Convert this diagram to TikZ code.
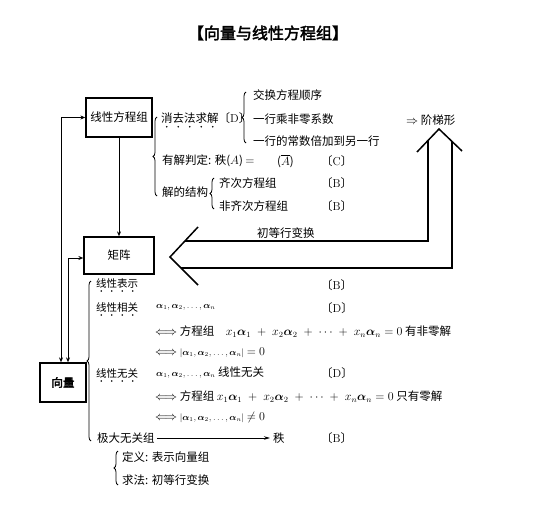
\documentclass[tikz,border=0pt]{standalone}
\usepackage{amsmath,amssymb}
\usepackage{fontspec}
\newfontfamily\cjk[AutoFakeBold=2.5]{Noto Sans CJK SC}
\usetikzlibrary{decorations.pathreplacing,arrows.meta}
\newcommand\grade[1]{〔{\rmfamily #1}〕}
\newcommand\bal[1]{\boldsymbol{\alpha}_{#1}}
\newcommand\emdots[3]{\foreach \i in {1,...,#2}{\fill ([xshift={(\i-0.5)*#3},yshift=-3pt]#1.south west) circle (0.9pt);}}
\begin{document}
\begin{tikzpicture}[x=1pt,y=-1pt,
  every node/.style={inner sep=0pt},
  txt/.style={anchor=west,font=\cjk\fontsize{11.5}{13}\selectfont},
  stxt/.style={anchor=west,font=\cjk\fontsize{10.5}{12}\selectfont},
  box/.style={draw,line width=1.3pt,font=\cjk\fontsize{11.5}{13}\selectfont},
  brc/.style={decorate,decoration={brace,amplitude=4pt},line width=0.8pt},
  tip/.style={line width=0.9pt,-{Stealth[length=5pt,width=4pt]}},
  dtip/.style={line width=0.9pt,{Stealth[length=5pt,width=4pt]}-{Stealth[length=5pt,width=4pt]}},
  big/.style={line width=1.5pt,line join=miter},
]
\useasboundingbox (0,0) rectangle (536,519);
\fill[white] (0,0) rectangle (536,519);

% title
\node[font=\cjk\bfseries\fontsize{16}{18}\selectfont] (title) at (268,33) {【向量与线性方程组】};

% boxes
\node[box,minimum width=66pt,minimum height=39pt] (xfc) at (119,117.5) {线性方程组};
\node[box,minimum width=70pt,minimum height=37pt] (jz) at (119,255.5) {矩阵};
\node[box,minimum width=46pt,minimum height=39pt,font=\cjk\bfseries\fontsize{11.5}{13}\selectfont] (xl) at (63,382.5) {向量};

% box connectors
\draw[tip] (xfc.south) -- (jz.north);
\draw[dtip] (xfc.west) -| ([xshift=-2pt]xl.north);
\draw[dtip] ([yshift=-2.5pt]jz.west) -| ([xshift=5pt]xl.north);

% upper part
\draw[brc] (157,196) -- (157,117);
\node[txt] (xq) at (161,118) {消去法求解\grade{D}};
\emdots{xq}{5}{11.5pt}
\draw[brc] (246,143) -- (246,92);
\node[txt] (s1) at (253,95) {交换方程顺序};
\node[txt] (s2) at (253,119) {一行乘非零系数};
\node[txt] (s3) at (253,141) {一行的常数倍加到另一行};
\node[txt] (jt) at (406,120) {$\Rightarrow$ 阶梯形};
\node[txt] (pd) at (162,161) {有解判定: 秩($A$) $=$};
\node[txt] (pdA) at (277,161) {($\overline{A}$)};
\node[txt] (gC) at (321,161) {\grade{C}};
\node[txt] (jg) at (162,192) {解的结构};
\draw[brc] (214,209) -- (214,178);
\node[txt] (qc) at (219,183) {齐次方程组};
\node[txt] (fqc) at (219,206) {非齐次方程组};
\node[txt] (gB1) at (321,183) {\grade{B}};
\node[txt] (gB2) at (321,206) {\grade{B}};

% big U arrow
\coordinate (ul) at (417,152);
\coordinate (ut) at (439,129);
\coordinate (ur) at (462,151);
\coordinate (lu) at (198,227);
\coordinate (lt) at (170,257);
\coordinate (ld) at (198,285);
\draw[big] (ul) -- (ut) -- (ur);
\draw[big] (lu) -- (lt) -- (ld);
\draw[big] (428,140.5) -- (428,241) -- (184.9,241);
\draw[big] (452,141.4) -- (452,268) -- (181,268);
\node[txt] (cd) at (257,233) {初等行变换};

% lower part
\draw[brc] (91,441) -- (91,281);
\node[stxt] (bs) at (96,283) {线性表示};
\emdots{bs}{4}{10.5pt}
\node[txt] (gB3) at (321,285) {\grade{B}};
\node[stxt] (xg) at (96,307) {线性相关};
\emdots{xg}{4}{10.5pt}
\node[txt] (a1) at (156,307) {\fontsize{9}{10}\selectfont$\bal1,\bal2,\ldots,\bal n$};
\node[txt] (gD1) at (321,308) {\grade{D}};
\node[txt] (e1) at (155,332) {$\Longleftrightarrow$ 方程组\quad $x_1\bal1 \;+\; x_2\bal2 \;+\; \cdots \;+\; x_n\bal n=0$ 有非零解};
\node[txt] (e2) at (155,353) {$\Longleftrightarrow$ {\fontsize{9}{10}\selectfont$|\bal1,\bal2,\ldots,\bal n|$} $=0$};
\node[stxt] (wg) at (96,373) {线性无关};
\emdots{wg}{4}{10.5pt}
\node[txt] (a2) at (156,373) {{\fontsize{9}{10}\selectfont$\bal1,\bal2,\ldots,\bal n$} 线性无关};
\node[txt] (gD2) at (321,373) {\grade{D}};
\node[txt] (e3) at (155,397) {$\Longleftrightarrow$ 方程组 $x_1\bal1 \;+\; x_2\bal2 \;+\; \cdots \;+\; x_n\bal n=0$ 只有零解};
\node[txt] (e4) at (155,417) {$\Longleftrightarrow$ {\fontsize{9}{10}\selectfont$|\bal1,\bal2,\ldots,\bal n|$} $\neq 0$};
\node[txt] (jd) at (97,438) {极大无关组};
\node[txt] (zhi) at (273,438) {秩};
\draw[line width=0.8pt,-{Stealth[length=6pt,width=3.5pt]}] ([xshift=2pt]jd.east) -- ([xshift=-3pt]zhi.west);
\node[txt] (gB4) at (321,438) {\grade{B}};
\draw[brc] (118,485) -- (118,451);
\node[txt] (dy) at (122,457) {定义: 表示向量组};
\node[txt] (qf) at (122,480) {求法: 初等行变换};
\end{tikzpicture}
\end{document}
